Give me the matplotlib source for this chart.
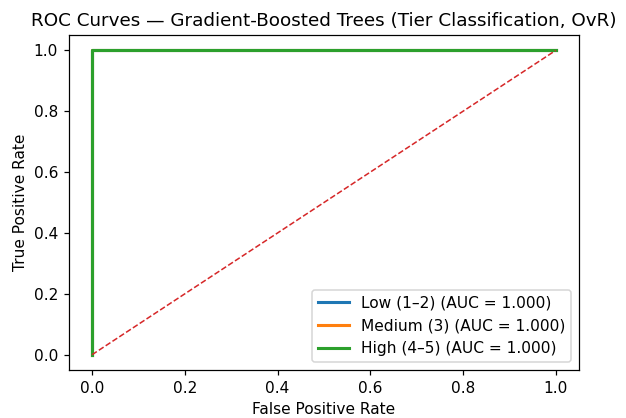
import matplotlib
matplotlib.use("Agg")
import matplotlib.pyplot as plt

class_names = ["Low (1–2)", "Medium (3)", "High (4–5)"]
auc_values = [1.000, 1.000, 1.000]
fpr_values = [[0.0, 0.0, 1.0], [0.0, 0.0, 1.0], [0.0, 0.0, 1.0]]
tpr_values = [[0.0, 1.0, 1.0], [0.0, 1.0, 1.0], [0.0, 1.0, 1.0]]
colors = ["#1f77b4", "#ff7f0e", "#2ca02c"]

dpi = 110.6
fig = plt.figure(figsize=(626 / dpi, 418 / dpi), dpi=dpi)
ax = fig.add_axes([0.110, 0.115, 0.815, 0.801])

for name, auc, fpr, tpr, c in zip(class_names, auc_values, fpr_values, tpr_values, colors):
    ax.plot(fpr, tpr, color=c, lw=2, label=f"{name} (AUC = {auc:.3f})")

ax.plot([0, 1], [0, 1], color="#d62728", linestyle="--", lw=1)

ax.set_xlabel("False Positive Rate")
ax.set_ylabel("True Positive Rate")
ax.set_title("ROC Curves — Gradient-Boosted Trees (Tier Classification, OvR)")
ax.legend(loc="lower right")

fig.savefig("out.png", dpi=dpi)
